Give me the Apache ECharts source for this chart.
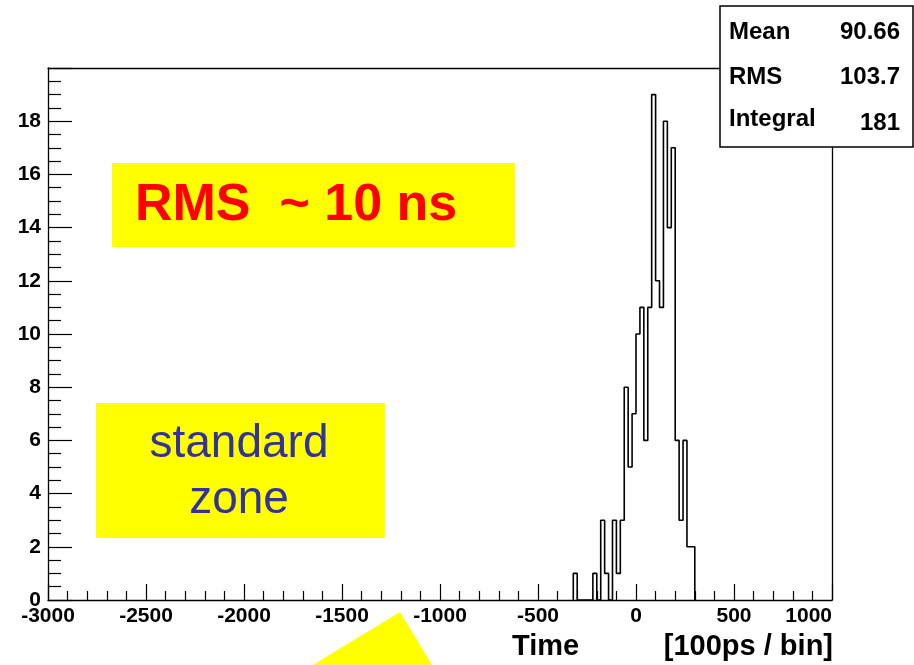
<!DOCTYPE html>
<html><head><meta charset="utf-8">
<script src="https://cdn.jsdelivr.net/npm/echarts@6/dist/echarts.min.js"></script>
<style>html,body{margin:0;padding:0;background:#fff}#c{width:914px;height:665px}</style>
</head><body><div id="c"></div>
<script>
// Histogram data: lower bin edges (time units, 100 ps per unit) and counts per 20-unit bin
const binLowEdges = [-320,-300,-280,-260,-240,-220,-200,-180,-160,-140,-120,-100,-80,-60,-40,-20,
                     0,20,40,60,80,100,120,140,160,180,200,220,240,260,280];
const binCounts   = [1,0,0,0,0,1,0,3,1,0,3,1,3,8,5,7,
                     10,11,6,11,19,12,11,18,14,17,6,3,6,2,2];
const binWidth = 20;

// Stats box
const statNames  = ['Mean', 'RMS', 'Integral'];
const statValues = ['90.66', '103.7', '181'];

// Text
const xTitleLeft  = 'Time';
const xTitleRight = '[100ps / bin]';
const noteRms  = 'RMS  ~ 10 ns';
const noteZone = ['standard', 'zone'];

const stepData = [[binLowEdges[0], 0]];
binLowEdges.forEach((x, i) => stepData.push([x, binCounts[i]]));
stepData.push([binLowEdges[binLowEdges.length - 1] + binWidth, 0]);

const FONT = '"Liberation Sans", Arial, Helvetica, sans-serif';
const axisLineStyle = {color: '#000', width: 1.3};

const chart = echarts.init(document.getElementById('c'), null, {renderer: 'canvas'});

const graphics = [
  // yellow annotation boxes
  {type: 'rect', z: 100, shape: {x: 112, y: 163, width: 403, height: 84}, style: {fill: '#ffff00'}},
  {type: 'text', z: 101, x: 135, y: 206, style: {text: noteRms, fill: '#ff0000', fontFamily: FONT, fontWeight: 'bold', fontSize: 52, align: 'left', verticalAlign: 'middle'}},
  {type: 'rect', z: 100, shape: {x: 96, y: 403, width: 289, height: 135}, style: {fill: '#ffff00'}},
  {type: 'text', z: 101, x: 239, y: 444, style: {text: noteZone[0], fill: '#333399', fontFamily: FONT, fontSize: 46, align: 'center', verticalAlign: 'middle'}},
  {type: 'text', z: 101, x: 239, y: 500, style: {text: noteZone[1], fill: '#333399', fontFamily: FONT, fontSize: 46, align: 'center', verticalAlign: 'middle'}},
  // yellow triangle at bottom
  {type: 'polygon', z: 100, shape: {points: [[313, 665], [400, 612], [432, 665]]}, style: {fill: '#ffff00'}},
  // x-axis title
  {type: 'text', z: 101, x: 512, y: 647, style: {text: xTitleLeft, fill: '#000', fontFamily: FONT, fontWeight: 'bold', fontSize: 29, align: 'left', verticalAlign: 'middle'}},
  {type: 'text', z: 101, x: 833, y: 647, style: {text: xTitleRight, fill: '#000', fontFamily: FONT, fontWeight: 'bold', fontSize: 29, align: 'right', verticalAlign: 'middle'}},
  // stats box
  {type: 'rect', z: 100, shape: {x: 720, y: 6, width: 193, height: 141}, style: {fill: '#fff', stroke: '#000', lineWidth: 1.5}}
];
const statY = [32, 77, 119];
const statValY = [32, 77, 123];
statNames.forEach((n, i) => {
  graphics.push({type: 'text', z: 101, x: 729, y: statY[i], style: {text: n, fill: '#000', fontFamily: FONT, fontWeight: 'bold', fontSize: 24, align: 'left', verticalAlign: 'middle'}});
  graphics.push({type: 'text', z: 101, x: 900, y: statValY[i], style: {text: statValues[i], fill: '#000', fontFamily: FONT, fontWeight: 'bold', fontSize: 24, align: 'right', verticalAlign: 'middle'}});
});

chart.setOption({
  animation: false,
  backgroundColor: '#fff',
  grid: {left: 48, top: 68, width: 784, height: 532, containLabel: false},
  xAxis: [{
    type: 'value', min: -3000, max: 1000, interval: 500,
    axisLine: {show: true, onZero: false, lineStyle: axisLineStyle},
    axisTick: {show: true, inside: true, length: 16, lineStyle: {color: '#000', width: 1.2}},
    minorTick: {show: true, splitNumber: 5, length: 9, lineStyle: {color: '#000', width: 1.2}},
    splitLine: {show: false}, minorSplitLine: {show: false},
    axisLabel: {fontFamily: FONT, fontWeight: 'bold', fontSize: 21, color: '#000', margin: 6, showMinLabel: true, showMaxLabel: true,
      alignMaxLabel: 'right', formatter: v => String(v)}
  }, {
    type: 'value', position: 'top', min: -3000, max: 1000,
    axisLine: {show: true, onZero: false, lineStyle: axisLineStyle},
    axisTick: {show: false}, axisLabel: {show: false}, splitLine: {show: false}
  }],
  yAxis: [{
    type: 'value', min: 0, max: 20, interval: 2,
    axisLine: {show: true, onZero: false, lineStyle: axisLineStyle},
    axisTick: {show: true, inside: true, length: 24, lineStyle: {color: '#000', width: 1.2}},
    minorTick: {show: true, splitNumber: 4, length: 13, lineStyle: {color: '#000', width: 1.2}},
    splitLine: {show: false},
    axisLabel: {fontFamily: FONT, fontWeight: 'bold', fontSize: 21, color: '#000', margin: 7,
      formatter: v => (v >= 20 ? '' : String(v))}
  }, {
    type: 'value', position: 'right', min: 0, max: 20,
    axisLine: {show: true, onZero: false, lineStyle: axisLineStyle},
    axisTick: {show: false}, axisLabel: {show: false}, splitLine: {show: false}
  }],
  series: [{
    type: 'line', step: 'end', xAxisIndex: 0, yAxisIndex: 0,
    data: stepData, symbol: 'none', silent: true,
    lineStyle: {color: '#000', width: 1.6}
  }],
  graphic: graphics
});
</script>
</body></html>
